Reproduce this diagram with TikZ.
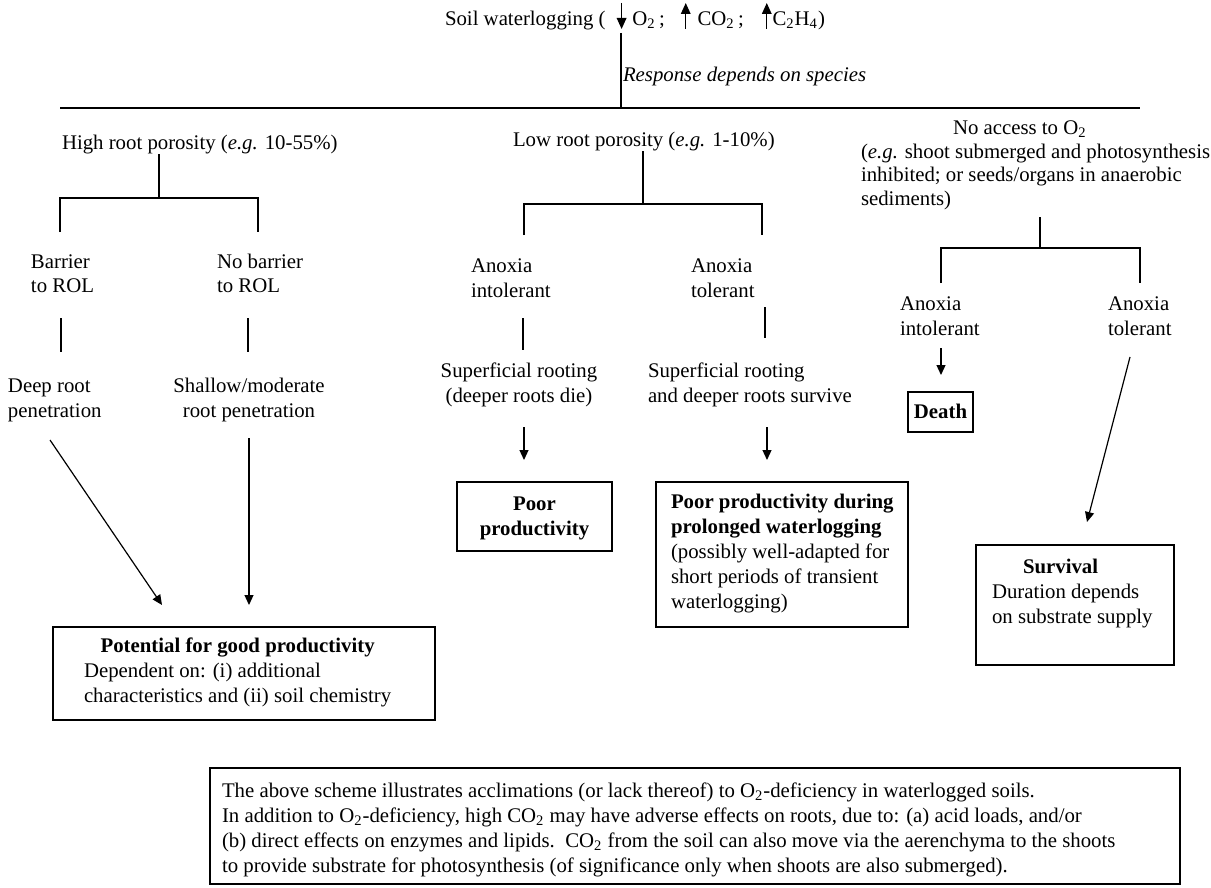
\documentclass[tikz,border=0pt]{standalone}
\usepackage{fontspec}
\setmainfont{Liberation Serif}
\usetikzlibrary{arrows.meta}
\newcommand\fs{\fontsize{10.4}{12.5}\selectfont}
\newcommand\tl[1]{\begin{tabular}[t]{@{}l@{}}#1\end{tabular}}
\newcommand\tc[1]{\begin{tabular}[t]{@{}c@{}}#1\end{tabular}}
\newcommand\dnarr{\tikz[baseline=0pt]\draw[line width=0.7pt,-{Triangle[length=5.5pt,width=4.8pt]}] (0pt,11.5pt)--(0pt,-1.5pt);}
\newcommand\uparr{\tikz[baseline=0pt]\draw[line width=0.7pt,-{Triangle[length=5.5pt,width=4.8pt]}] (0pt,-1.5pt)--(0pt,11.5pt);}
\begin{document}
\begin{tikzpicture}[x=0.5pt,y=-0.5pt,
  every node/.style={font=\fs, inner sep=0pt, outer sep=0pt},
  ln/.style={line width=0.6pt},
  arr/.style={ln,-{Triangle[length=5pt,width=4.5pt]}},
  box/.style={draw, line width=0.8pt, anchor=north west}]
\useasboundingbox (0,0) rectangle (1211,888);

% ---- title ----
\node[anchor=base west] (title) at (445,26) {Soil waterlogging (\hspace{5.6pt}\dnarr\hspace{3pt}O\textsubscript{2}\,;\hspace{8pt}\uparr\hspace{3.5pt}CO\textsubscript{2}\,;\hspace{9pt}\uparr\hspace{0.5pt}C\textsubscript{2}H\textsubscript{4})};
\coordinate (t0) at (621,33);
\coordinate (t1) at (621,108);
\draw[ln] (t0) -- (t1);
\node[anchor=base west] (resp) at (623,82) {\itshape Response depends on species};
\coordinate (hL) at (60,108);
\coordinate (hR) at (1140,108);
\draw[ln] (hL) -- (hR);

% ---- left column ----
\node[anchor=base west] (high) at (62,150) {High root porosity (\textit{e.g.} 10-55\%)};
\coordinate (hj) at (159,198);
\coordinate (hjL) at (60,232);
\coordinate (hjR) at (258,232);
\draw[ln] (hj |- high.south) -- (hj);
\draw[ln] (hjL) |- (hj) -| (hjR);
\node[anchor=base west] (bar) at (31,268) {\tl{Barrier\\to ROL}};
\node[anchor=base west] (nobar) at (217,268) {\tl{No barrier\\to ROL}};
\coordinate (b1) at (61,318); \coordinate (b2) at (61,352);
\coordinate (n1) at (248,318); \coordinate (n2) at (248,352);
\draw[ln] (b1) -- (b2);
\draw[ln] (n1) -- (n2);
\node[anchor=base west] (deep) at (8,392) {\tl{Deep root\\penetration}};
\node[anchor=base] (shallow) at (249,392) {\tc{Shallow/moderate\\root penetration}};
\coordinate (d1) at (50,440); \coordinate (d2) at (162,605);
\coordinate (s1) at (249,438); \coordinate (s2) at (249,605);
\draw[arr] (d1) -- (d2);
\draw[arr] (s1) -- (s2);
\node[box, minimum width=191pt, minimum height=46.5pt] (pot) at (53,627) {};
\node[anchor=base west] (pott) at (84,652) {\tl{\multicolumn{1}{@{}c@{}}{\textbf{Potential for good productivity}}\\Dependent on: (i) additional\\characteristics and (ii) soil chemistry}};

% ---- middle column ----
\node[anchor=base west] (low) at (513,147) {Low root porosity (\textit{e.g.} 1-10\%)};
\coordinate (lj) at (643,204);
\coordinate (ljL) at (524,235);
\coordinate (ljR) at (762,235);
\draw[ln] (lj |- low.south) -- (lj);
\draw[ln] (ljL) |- (lj) -| (ljR);
\node[anchor=base west] (anxI) at (471,272) {\tl{Anoxia\\intolerant}};
\node[anchor=base west] (anxT) at (691,272) {\tl{Anoxia\\tolerant}};
\coordinate (i1) at (523,318); \coordinate (i2) at (523,350);
\coordinate (o1) at (765,307); \coordinate (o2) at (765,338);
\draw[ln] (i1) -- (i2);
\draw[ln] (o1) -- (o2);
\node[anchor=base] (sup1) at (519,377) {\tc{Superficial rooting\\(deeper roots die)}};
\node[anchor=base west] (sup2) at (648,377) {\tl{Superficial rooting\\and deeper roots survive}};
\coordinate (p1) at (524,427); \coordinate (p2) at (524,460);
\coordinate (q1) at (767,427); \coordinate (q2) at (767,460);
\draw[arr] (p1) -- (p2);
\draw[arr] (q1) -- (q2);
\node[box, minimum width=77.5pt, minimum height=34.5pt] (poor) at (457,482) {};
\node[anchor=base] (poort) at (534.5,510) {\tc{\textbf{Poor}\\\textbf{productivity}}};
\node[box, minimum width=126pt, minimum height=72.5pt] (during) at (656,482) {};
\node[anchor=base west] (duringt) at (671,508) {\tl{\textbf{Poor productivity during}\\\textbf{prolonged waterlogging}\\(possibly well-adapted for\\short periods of transient\\waterlogging)}};

% ---- right column ----
\node[anchor=base west] (noacc) at (861,135) {\renewcommand\arraystretch{0.94}\tl{\hspace{46pt}No access to O\textsubscript{2}\\(\textit{e.g.} shoot submerged and photosynthesis\\inhibited; or seeds/organs in anaerobic\\sediments)}};
\coordinate (rj) at (1040,248);
\coordinate (rjL) at (941,283);
\coordinate (rjR) at (1140,283);
\coordinate (rj0) at (1040,217);
\draw[ln] (rj0) -- (rj);
\draw[ln] (rjL) |- (rj) -| (rjR);
\node[anchor=base west] (anxI2) at (900,310) {\tl{Anoxia\\intolerant}};
\node[anchor=base west] (anxT2) at (1108,310) {\tl{Anoxia\\tolerant}};
\coordinate (e1) at (941,348); \coordinate (e2) at (941,375);
\draw[arr] (e1) -- (e2);
\node[box, minimum width=32.5pt, minimum height=20pt] (death) at (908,392) {};
\node[anchor=base] (deatht) at (940.5,418) {\textbf{Death}};
\coordinate (v1) at (1130,357); \coordinate (v2) at (1087,522);
\draw[arr] (v1) -- (v2);
\node[box, minimum width=99pt, minimum height=60pt] (surv) at (976,545) {};
\node[anchor=base west] (survt) at (992,573) {\tl{\hspace{15.5pt}\textbf{Survival}\\Duration depends\\on substrate supply}};

% ---- bottom note ----
\node[box, minimum width=485pt, minimum height=58pt] (note) at (210,768) {};
\node[anchor=base west] (notet) at (222,797) {\tl{The above scheme illustrates acclimations (or lack thereof) to O\textsubscript{2}-deficiency in waterlogged soils.\\
In addition to O\textsubscript{2}-deficiency, high CO\textsubscript{2} may have adverse effects on roots, due to: (a) acid loads, and/or\\
(b) direct effects on enzymes and lipids.\ \ CO\textsubscript{2} from the soil can also move via the aerenchyma to the shoots\\
to provide substrate for photosynthesis (of significance only when shoots are also submerged).}};
\end{tikzpicture}
\end{document}
